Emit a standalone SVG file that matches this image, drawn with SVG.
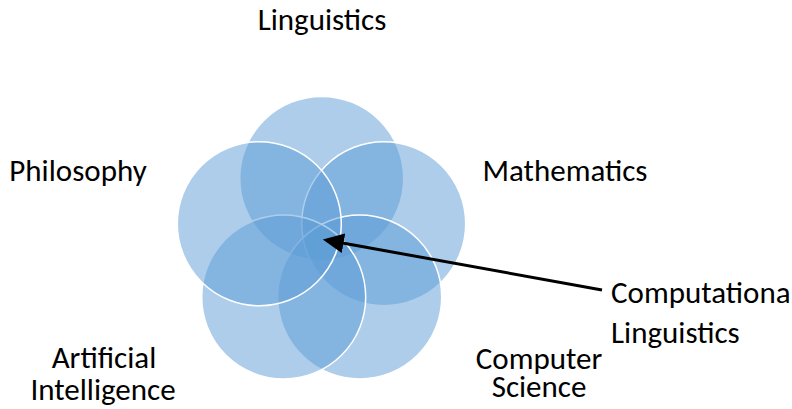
<svg xmlns="http://www.w3.org/2000/svg" width="792" height="409" viewBox="0 0 792 409">
  <style>
    .c { fill: #5B9BD5; fill-opacity: 0.5; stroke: #FFFFFF; stroke-width: 1.5; }
    .t { font-family: Carlito, Lato, "Liberation Sans", sans-serif; font-size: 31px; fill: #000000; }
    .m { text-anchor: middle; }
    .conn { stroke: #000000; stroke-width: 3; fill: none; }
  </style>
  <defs>
    <marker id="ah" viewBox="-1 -10 22 20" refX="0" refY="0" markerWidth="22" markerHeight="20" markerUnits="userSpaceOnUse" orient="auto">
      <path d="M-1,-10 L20,0 L-1,10 z" fill="#000000"/>
    </marker>
  </defs>
  <rect x="0" y="0" width="792" height="409" fill="#FFFFFF"/>
  <g id="linguistics">
    <circle class="c" cx="321.7" cy="178.4" r="82"/>
    <text class="t m" x="322" y="30">Linguistics</text>
  </g>
  <g id="mathematics">
    <circle class="c" cx="383.7" cy="223.7" r="82"/>
    <text class="t m" x="565" y="181">Mathematics</text>
  </g>
  <g id="computer-science">
    <circle class="c" cx="359.7" cy="297" r="82"/>
    <text class="t m" x="539" y="369">Computer</text>
    <text class="t m" x="539" y="397">Science</text>
  </g>
  <g id="artificial-intelligence">
    <circle class="c" cx="283.7" cy="297" r="82"/>
    <text class="t m" x="104" y="368">Artificial</text>
    <text class="t m" x="103" y="400">Intelligence</text>
  </g>
  <g id="philosophy">
    <circle class="c" cx="259.3" cy="223.7" r="82"/>
    <text class="t m" x="78" y="181">Philosophy</text>
  </g>
  <g id="computational-linguistics">
    <text class="t" x="611" y="303">Computational</text>
    <text class="t" x="611" y="343">Linguistics</text>
  </g>
  <g id="connectors">
    <line class="conn" x1="602" y1="290" x2="342.5" y2="243" marker-end="url(#ah)"/>
  </g>
</svg>
